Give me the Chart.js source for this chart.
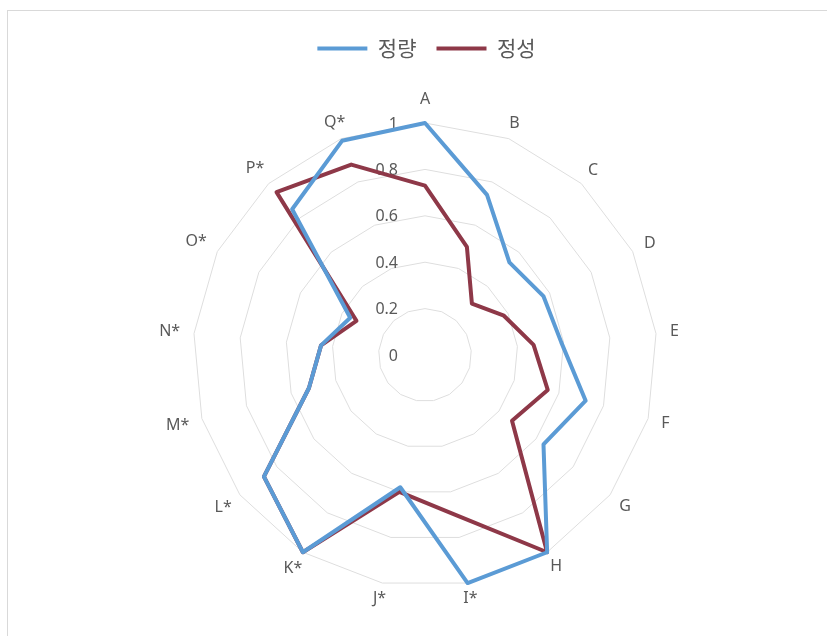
<!DOCTYPE html>
<html>
<head>
<meta charset="utf-8">
<script src="https://cdn.jsdelivr.net/npm/chart.js@4.4.0/dist/chart.umd.min.js"></script>
<style>
  body { margin: 0; background: #fff; }
  #frame { position: absolute; left: 7px; top: 10px; width: 819px; height: 700px; border: 1px solid #d9d9d9; }
  #wrap { position: absolute; left: 0; top: 0; width: 827px; height: 636px; }
</style>
</head>
<body>
<div id="frame"></div>
<div id="wrap"><canvas id="radarChart" width="827" height="636"></canvas></div>
<script>
// 항목 (별표 = 정성 항목)
var categories = ["A", "B", "C", "D", "E", "F", "G", "H", "I*", "J*", "K*", "L*", "M*", "N*", "O*", "P*", "Q*"];
var quantitative = [1.0, 0.74, 0.54, 0.57, 0.59, 0.72, 0.64, 1.0, 1.0, 0.58, 1.0, 0.87, 0.52, 0.45, 0.36, 0.85, 0.99];
var qualitative = [0.73, 0.5, 0.3, 0.38, 0.47, 0.55, 0.47, 1.0, 0.7, 0.6, 1.0, 0.87, 0.52, 0.45, 0.33, 0.95, 0.88];
var tickValues = [0, 0.2, 0.4, 0.6, 0.8, 1];
var tickLabels = ["0", "0.2", "0.4", "0.6", "0.8", "1"];

var textColor = '#595959';

// 눈금 값과 항목 이름은 직접 그림 (축 왼쪽에 눈금, 바깥쪽에 항목)
var radarText = {
  id: 'radarText',
  beforeDatasetsDraw: function (chart) {
    var scale = chart.scales.r;
    var ctx = chart.ctx;
    ctx.save();
    ctx.font = '16px "Noto Sans", sans-serif';
    ctx.fillStyle = textColor;
    ctx.textAlign = 'right';
    ctx.textBaseline = 'middle';
    tickValues.forEach(function (v, i) {
      var y = scale.yCenter - scale.getDistanceFromCenterForValue(v);
      ctx.fillText(tickLabels[i], scale.xCenter - 27, y + 1);
    });
    ctx.textAlign = 'center';
    categories.forEach(function (c, i) {
      var angle = scale.getIndexAngle(i);
      var w = ctx.measureText(c).width;
      var extra = Math.abs(Math.sin(angle)) * w / 2 + (Math.cos(angle) > 0.99 ? 10 : 0);
      var p = scale.getPointPosition(i, scale.drawingArea + 14 + extra);
      ctx.fillText(c, p.x, p.y);
    });
    ctx.restore();
  }
};

var ctx = document.getElementById("radarChart").getContext("2d");
var radarChart = new Chart(ctx, {
  type: 'radar',
  data: {
    labels: categories,
    datasets: [{
      label: '정량',
      data: quantitative,
      borderColor: '#5b9bd5',
      backgroundColor: '#5b9bd5',
      borderWidth: 4,
      borderJoinStyle: 'round',
      pointRadius: 0,
      fill: false
    }, {
      label: '정성',
      data: qualitative,
      borderColor: '#8e3848',
      backgroundColor: '#8e3848',
      borderWidth: 4,
      borderJoinStyle: 'round',
      pointRadius: 0,
      fill: false
    }]
  },
  options: {
    responsive: false,
    animation: false,
    layout: { padding: { top: 18, left: 26 } },
    plugins: {
      legend: {
        position: 'top',
        labels: {
          usePointStyle: true,
          pointStyle: 'line',
          pointStyleWidth: 50,
          padding: 20,
          color: textColor,
          font: { family: '"Noto Sans CJK KR", sans-serif', size: 21 }
        }
      },
      tooltip: { enabled: false }
    },
    scales: {
      r: {
        min: 0,
        max: 1,
        ticks: { stepSize: 0.2, display: false },
        pointLabels: { display: false },
        angleLines: { display: false },
        grid: { circular: false, color: '#dedede', lineWidth: 1 },
        afterFit: function (scale) {
          scale.xCenter = 425;
          scale.yCenter = 355;
          scale.drawingArea = 232;
        }
      }
    }
  },
  plugins: [radarText]
});
</script>
</body>
</html>
